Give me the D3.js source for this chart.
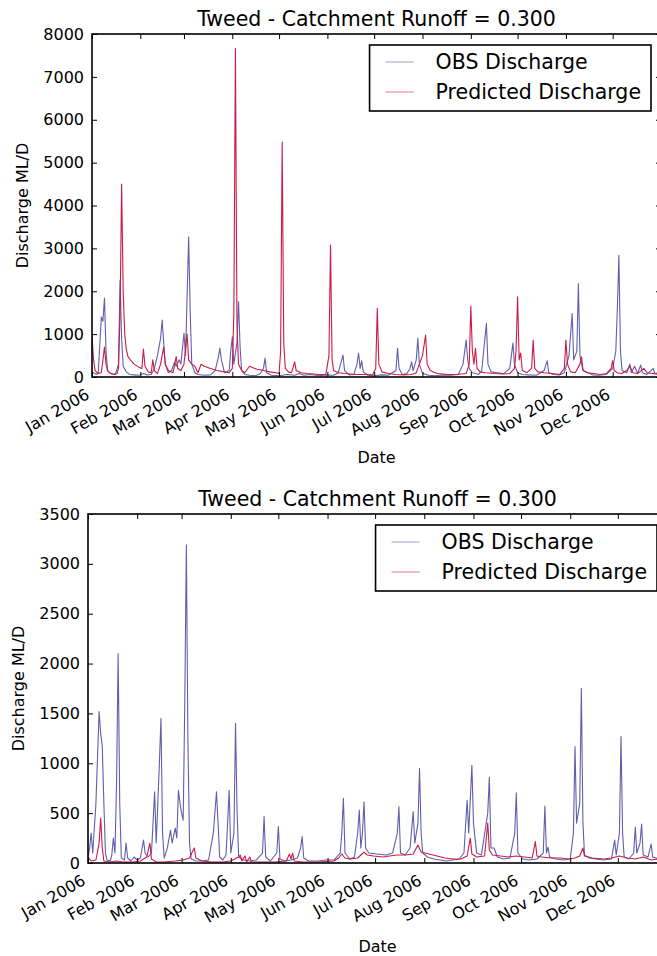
<!DOCTYPE html>
<html>
<head>
<meta charset="utf-8">
<script src="https://cdn.jsdelivr.net/npm/d3@7"></script>
<style>
  body { margin: 0; background: #fff; }
  svg text { font-family: "DejaVu Sans", "Liberation Sans", sans-serif; fill: #000; }
</style>
</head>
<body>
<svg id="chart" width="657" height="956"></svg>
<script>
// ---- data: daily discharge (ML/D), given as [day of year, value] pairs ----
const seriesNames = ["OBS Discharge", "Predicted Discharge"];
const chartTitle = "Tweed - Catchment Runoff = 0.300";
const yTitle = "Discharge ML/D";
const xTitle = "Date";
const monthLabels = ["Jan 2006", "Feb 2006", "Mar 2006", "Apr 2006", "May 2006", "Jun 2006",
                     "Jul 2006", "Aug 2006", "Sep 2006", "Oct 2006", "Nov 2006", "Dec 2006"];
const yTicksTop = [0, 1000, 2000, 3000, 4000, 5000, 6000, 7000, 8000];
const yTicksBottom = [0, 500, 1000, 1500, 2000, 2500, 3000, 3500];

const obsTop = [[0,120],[3,60],[4,100],[6,1400],[7,1300],[8,1840],[9,600],[10,150],[12,80],[15,60],[17,300],
  [18,2250],[19,900],[20,250],[22,120],[24,60],[27,50],[30,40],[33,80],[35,50],[38,60],[40,200],[42,500],
  [44,900],[45,1330],[46,800],[47,300],[49,100],[51,150],[53,350],[54,250],[56,400],[57,300],[59,1020],
  [60,500],[62,3270],[63,1500],[64,300],[66,100],[68,60],[72,40],[76,50],[79,150],[81,450],[82,675],
  [83,400],[85,100],[88,150],[89,600],[90,940],[91,300],[93,800],[94,1755],[95,700],[96,150],[98,60],
  [101,40],[105,30],[108,80],[110,200],[111,440],[112,100],[115,40],[120,30],[125,60],[130,40],[133,80],
  [136,40],[140,60],[146,30],[150,50],[155,40],[158,100],[161,510],[162,150],[165,50],[168,60],[170,300],
  [171,560],[172,200],[173,380],[174,120],[177,40],[181,30],[186,50],[190,40],[195,150],[196,670],[197,200],
  [199,60],[202,80],[204,200],[205,355],[206,150],[208,400],[209,900],[210,300],[212,80],[216,40],[220,30],
  [225,50],[230,40],[235,60],[238,300],[240,860],[241,400],[242,200],[244,100],[246,80],[248,60],[250,150],
  [253,1250],[254,300],[256,120],[260,100],[264,80],[268,200],[270,790],[271,300],[273,100],[276,60],
  [280,50],[285,40],[290,150],[292,380],[293,100],[296,60],[300,50],[303,100],[306,500],[308,1480],[309,400],
  [311,600],[312,2180],[313,500],[315,150],[318,100],[321,50],[325,40],[330,60],[334,200],[336,600],
  [337,1600],[338,2840],[339,600],[340,150],[343,100],[345,300],[346,100],[348,250],[350,80],[352,280],
  [353,100],[356,60],[360,200],[361,80],[364,100]];

const predTop = [[0,950],[1,400],[2,150],[4,80],[6,100],[8,700],[9,300],[10,150],[12,80],[14,60],[16,80],
  [17,200],[18,1500],[19,4500],[20,2000],[21,1000],[22,650],[23,480],[25,380],[27,300],[30,230],[32,200],
  [33,650],[34,250],[36,120],[38,100],[39,400],[40,150],[42,80],[44,300],[46,700],[47,300],[49,150],
  [52,100],[54,475],[55,200],[57,150],[59,300],[61,1000],[62,400],[64,300],[66,250],[68,100],[70,300],
  [72,250],[76,200],[80,150],[85,120],[88,100],[90,200],[91,1500],[92,7660],[93,1200],[94,300],[96,150],
  [98,100],[101,250],[103,220],[106,180],[110,150],[114,120],[118,100],[120,80],[121,600],[122,5480],
  [123,800],[124,200],[126,120],[128,100],[130,355],[131,150],[134,100],[138,80],[142,70],[146,60],[150,60],
  [152,500],[153,3075],[154,400],[155,150],[158,100],[162,80],[166,70],[170,60],[175,60],[180,50],[182,200],
  [183,1600],[184,300],[186,120],[190,80],[195,60],[200,50],[205,60],[208,100],[210,300],[212,500],
  [214,980],[215,300],[217,150],[220,100],[222,80],[228,60],[234,60],[240,80],[242,300],[243,1655],
  [244,600],[245,300],[246,670],[247,200],[249,120],[252,100],[258,80],[264,70],[268,80],[271,200],
  [272,600],[273,1870],[274,400],[275,560],[276,150],[279,100],[282,200],[283,860],[284,200],[286,120],
  [290,100],[295,80],[300,60],[303,200],[304,860],[305,300],[307,120],[310,100],[313,300],[314,470],
  [315,150],[318,100],[322,80],[326,60],[330,80],[333,200],[334,380],[335,150],[337,100],[340,80],
  [343,150],[345,250],[347,100],[350,80],[354,200],[356,100],[360,80],[364,60]];

const obsBottom = [[0,50],[1,150],[2,300],[3,100],[5,600],[7,1518],[8,1300],[9,1170],[10,600],[11,100],
  [12,30],[14,20],[15,80],[16,250],[17,100],[18,800],[19,2100],[20,600],[21,50],[23,30],[24,200],[25,50],
  [27,20],[29,60],[31,30],[33,50],[35,230],[36,100],[38,60],[40,100],[42,715],[43,200],[45,1000],
  [46,1450],[47,300],[48,50],[50,150],[52,330],[53,200],[55,350],[56,250],[57,730],[58,600],[59,500],
  [60,430],[61,1600],[62,3190],[63,1200],[64,200],[65,40],[68,20],[72,20],[76,30],[79,300],[81,715],
  [82,400],[83,60],[85,30],[87,80],[89,730],[90,100],[92,300],[93,1400],[94,500],[95,60],[98,30],
  [102,20],[106,30],[110,100],[111,465],[112,60],[115,20],[119,100],[120,365],[121,40],[124,20],[128,30],
  [132,50],[134,150],[135,265],[136,50],[139,20],[145,20],[150,30],[155,30],[159,100],[160,300],[161,650],
  [162,100],[165,40],[168,60],[170,300],[171,530],[172,150],[173,300],[174,615],[175,150],[177,100],
  [182,90],[188,80],[192,100],[195,300],[196,565],[197,100],[200,80],[203,150],[205,515],[206,200],
  [208,400],[209,950],[210,300],[211,100],[214,60],[218,40],[222,30],[226,20],[230,30],[234,40],[237,100],
  [239,630],[240,300],[242,980],[243,400],[245,100],[248,80],[252,500],[253,860],[254,150],[256,150],
  [258,60],[262,40],[266,50],[269,300],[270,705],[271,100],[274,40],[278,30],[283,40],[287,100],[288,570],
  [289,100],[290,160],[291,60],[295,40],[300,30],[304,40],[306,300],[307,1167],[308,400],[310,600],
  [311,1752],[312,400],[313,80],[316,50],[320,40],[325,30],[330,40],[332,230],[333,80],[335,300],
  [336,1267],[337,300],[338,60],[341,40],[344,100],[345,357],[346,100],[348,200],[349,390],[350,80],
  [353,60],[355,190],[356,60],[360,40],[364,50]];

const predBottom = [[0,60],[2,20],[5,30],[7,200],[8,450],[9,150],[10,20],[14,10],[18,20],[22,10],[28,10],
  [33,20],[37,60],[39,200],[40,40],[43,10],[48,10],[55,20],[60,30],[64,50],[66,120],[67,150],[68,50],
  [72,20],[78,10],[85,10],[90,20],[95,60],[96,80],[97,20],[99,70],[100,10],[102,60],[103,10],[110,10],
  [118,10],[125,20],[127,90],[128,40],[129,100],[130,20],[135,10],[145,10],[155,20],[158,50],[160,90],
  [162,50],[165,40],[170,50],[172,80],[174,110],[176,80],[180,70],[186,60],[190,70],[195,80],[200,80],
  [205,90],[208,180],[210,110],[215,90],[220,70],[225,50],[230,40],[235,40],[239,70],[241,250],[242,90],
  [245,60],[250,70],[252,400],[253,130],[255,80],[260,70],[265,60],[270,70],[275,60],[280,50],[282,215],
  [283,70],[286,60],[292,50],[298,50],[303,40],[307,50],[310,70],[312,150],[313,70],[318,50],[325,40],
  [330,50],[335,70],[340,50],[345,40],[350,60],[355,30],[360,40],[364,30]];

// ---- layout of the two panels ----
const panels = [
  { obs: obsTop, pred: predTop, yTicks: yTicksTop, left: 92, right: 661, top: 34, bottom: 377, yLabelX: 22, dateY: 463 },
  { obs: obsBottom, pred: predBottom, yTicks: yTicksBottom, left: 88, right: 667, top: 514, bottom: 863, yLabelX: 18, dateY: 952 }
];
const colors = ["#5f5fae", "#cc1a48"];
const tickFont = 16, bigFont = 20.5;

const svg = d3.select("#chart");
const yearStart = new Date(2006, 0, 1);
const yearEnd = new Date(2007, 0, 1);
const toDate = d => d3.timeDay.offset(yearStart, d);

panels.forEach((p, i) => {
  const x = d3.scaleTime().domain([yearStart, yearEnd]).range([p.left, p.right]);
  const y = d3.scaleLinear().domain([0, d3.max(p.yTicks)]).range([p.bottom, p.top]);
  const g = svg.append("g");

  const clipId = "clip" + i;
  g.append("clipPath").attr("id", clipId)
    .append("rect").attr("x", p.left).attr("y", p.top)
    .attr("width", p.right - p.left).attr("height", p.bottom - p.top);

  // series lines
  const line = d3.line().x(d => x(toDate(d[0]))).y(d => y(d[1]));
  [p.obs, p.pred].forEach((s, k) => {
    g.append("path").datum(s)
      .attr("clip-path", `url(#${clipId})`)
      .attr("fill", "none").attr("stroke", colors[k])
      .attr("stroke-width", 1.1).attr("stroke-linejoin", "round")
      .attr("d", line);
  });

  const monthTicks = d3.timeMonth.range(yearStart, yearEnd);
  const fmt = d => monthLabels[d.getMonth()];

  // inward ticks on all four sides
  const axB = g.append("g").attr("transform", `translate(0,${p.bottom})`)
    .call(d3.axisBottom(x).tickValues(monthTicks).tickSize(-5).tickPadding(0).tickFormat(fmt));
  axB.select(".domain").remove();
  axB.selectAll("text")
    .attr("font-size", tickFont).attr("font-family", "DejaVu Sans")
    .attr("text-anchor", "end").attr("y", 0).attr("dy", "-0.24em")
    .attr("transform", "translate(0,24) rotate(-30)");

  const axT = g.append("g").attr("transform", `translate(0,${p.top})`)
    .call(d3.axisTop(x).tickValues(monthTicks).tickSize(-5).tickFormat(""));
  axT.select(".domain").remove();

  const axL = g.append("g").attr("transform", `translate(${p.left},0)`)
    .call(d3.axisLeft(y).tickValues(p.yTicks).tickSize(-5).tickPadding(8).tickFormat(d3.format("d")));
  axL.select(".domain").remove();
  axL.selectAll("text").attr("font-size", tickFont).attr("font-family", "DejaVu Sans");

  const axR = g.append("g").attr("transform", `translate(${p.right},0)`)
    .call(d3.axisRight(y).tickValues(p.yTicks).tickSize(-5).tickFormat(""));
  axR.select(".domain").remove();
  g.selectAll(".tick line").attr("stroke", "#000").attr("stroke-width", 1);

  // frame
  g.append("rect").attr("x", p.left).attr("y", p.top)
    .attr("width", p.right - p.left).attr("height", p.bottom - p.top)
    .attr("fill", "none").attr("stroke", "#000").attr("stroke-width", 1.6);

  // titles
  g.append("text").attr("x", (p.left + p.right) / 2).attr("y", p.top - 8)
    .attr("text-anchor", "middle").attr("font-size", bigFont).text(chartTitle);
  g.append("text").attr("x", (p.left + p.right) / 2).attr("y", p.dateY)
    .attr("text-anchor", "middle").attr("font-size", tickFont).text(xTitle);
  g.append("text")
    .attr("transform", `translate(${p.yLabelX},${(p.top + p.bottom) / 2}) rotate(-90)`)
    .attr("text-anchor", "middle").attr("dominant-baseline", "central")
    .attr("font-size", tickFont).text(yTitle);

  // legend
  const lg = g.append("g");
  const box = lg.append("rect").attr("fill", "#fff").attr("stroke", "#000").attr("stroke-width", 1.6);
  const texts = seriesNames.map((name, k) =>
    lg.append("text").attr("font-size", bigFont).attr("y", 24 + k * 30).text(name));
  const textW = d3.max(texts, t => t.node().getComputedTextLength());
  const boxW = 66 + textW + 10, boxH = 66;
  const bx = p.right - 10 - boxW, by = p.top + 11;
  lg.attr("transform", `translate(${bx},${by})`);
  box.attr("width", boxW).attr("height", boxH);
  texts.forEach(t => t.attr("x", 66));
  seriesNames.forEach((name, k) => {
    lg.append("line").attr("x1", 16).attr("x2", 44)
      .attr("y1", 17 + k * 30).attr("y2", 17 + k * 30)
      .attr("stroke", colors[k]).attr("stroke-opacity", 0.6).attr("stroke-width", 1);
  });
});
</script>
</body>
</html>
